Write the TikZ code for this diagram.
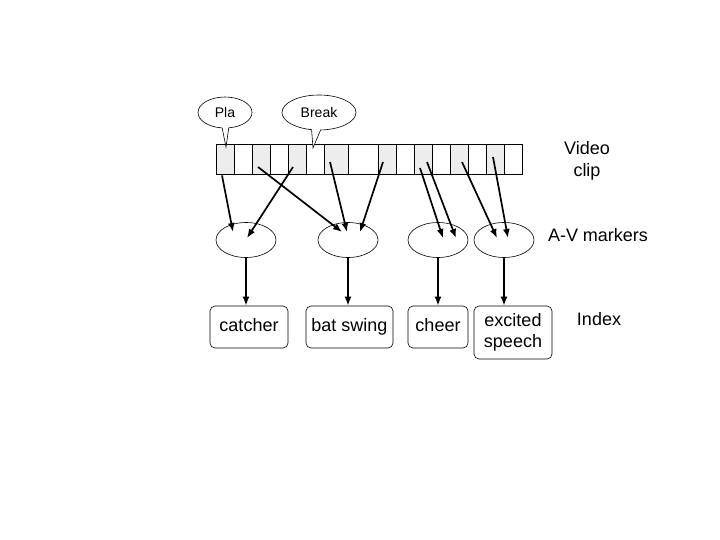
\documentclass[tikz,border=0pt]{standalone}
\usepackage{fontspec}
\setmainfont{Liberation Sans}
\usetikzlibrary{shapes.geometric,shapes.callouts,arrows.meta,calc}
\begin{document}
\begin{tikzpicture}[x=1pt,y=-1pt,
  cell/.style={draw, minimum height=30pt, inner sep=0pt, line width=0.8pt},
  ell/.style={draw, ellipse, minimum width=60pt, minimum height=35pt, inner sep=0pt, line width=0.6pt},
  idxbox/.style={draw, rounded corners=5pt, inner sep=0pt, line width=0.6pt, align=center,
                 font=\fontsize{18}{21}\selectfont},
  bubble/.style={draw, fill=white, ellipse callout, inner sep=0pt, line width=0.6pt,
                 callout pointer arc=14, font=\fontsize{14}{16}\selectfont},
  conn/.style={line width=1.7pt, -{Latex[length=9pt,width=7pt]}},
  lbl/.style={align=center, font=\fontsize{18}{22}\selectfont}]
\useasboundingbox (0,0) rectangle (720,540);
% video strip
\foreach \l/\r/\f [count=\i] in {216/234/gray!14, 234/252/white, 252/270/gray!14, 270/288/white,
  288/306/gray!14, 306/324/white, 324/348/gray!14, 348/378/white, 378/396/gray!14, 396/414/white,
  414/432/gray!14, 432/450/white, 450/468/gray!14, 468/486/white, 486/504/gray!14, 504/522/white}
  \node[cell, fill=\f, minimum width={\r-\l}] (c\i) at ({(\l+\r)/2},159) {};
% callouts
\coordinate (ptip) at (226,147);
\coordinate (btip) at (313,148);
\node[bubble, minimum width=54pt, minimum height=31pt, callout absolute pointer={(ptip)}] (pla) at (225,112.5) {Pla};
\node[bubble, minimum width=74pt, minimum height=35pt, callout absolute pointer={(btip)}] (brk) at (319,112.5) {Break};
% markers
\node[ell] (e1) at (246,240) {};
\node[ell] (e2) at (348,240) {};
\node[ell] (e3) at (438,240) {};
\node[ell] (e4) at (504,240) {};
% index boxes
\node[idxbox, minimum width=78pt, minimum height=42pt] (b1) at (249,327) {\strut catcher};
\node[idxbox, minimum width=87pt, minimum height=42pt] (b2) at (349.5,327) {\strut bat swing};
\node[idxbox, minimum width=60pt, minimum height=42pt] (b3) at (438,327) {\strut cheer};
\node[idxbox, minimum width=78pt, minimum height=53pt] (b4) at (513,332.5) {\strut excited\\\strut speech};
% labels
\node[lbl] (vc) at (587,161) {Video\\clip};
\node[lbl] (avm) at (598,235) {A-V markers};
\node[lbl] (idx) at (599,319) {Index};
% strip to markers
\draw[conn] ($(c1.south)+(-3,1)$) -- ($(e1.center)+(-13,-8)$);
\draw[conn] ($(c3.center)+(-3,8)$) -- ($(e2.center)+(-6,-8)$);
\draw[conn] ($(c5.center)+(-4,8)$) -- ($(e1.center)+(1,-2)$);
\draw[conn] ($(c7.center)+(-6,3)$) -- ($(e2.center)+(-1,-8)$);
\draw[conn] ($(c9.center)+(-4,3)$) -- ($(e2.center)+(12,-8)$);
\draw[conn] ($(c11.center)+(-3,9)$) -- ($(e3.center)+(5,-2)$);
\draw[conn] ($(c11.center)+(4,3)$) -- ($(e3.center)+(18,-2)$);
\draw[conn] ($(c13.center)+(3,3)$) -- ($(e4.center)+(-7,-2)$);
\draw[conn] ($(c15.center)+(-2,-2)$) -- ($(e4.center)+(4,-2)$);
% markers to index
\draw[conn] (e1.south) -- (e1.south |- b1.north);
\draw[conn] (e2.south) -- (e2.south |- b2.north);
\draw[conn] (e3.south) -- (e3.south |- b3.north);
\draw[conn] (e4.south) -- (e4.south |- b4.north);
\end{tikzpicture}
\end{document}
